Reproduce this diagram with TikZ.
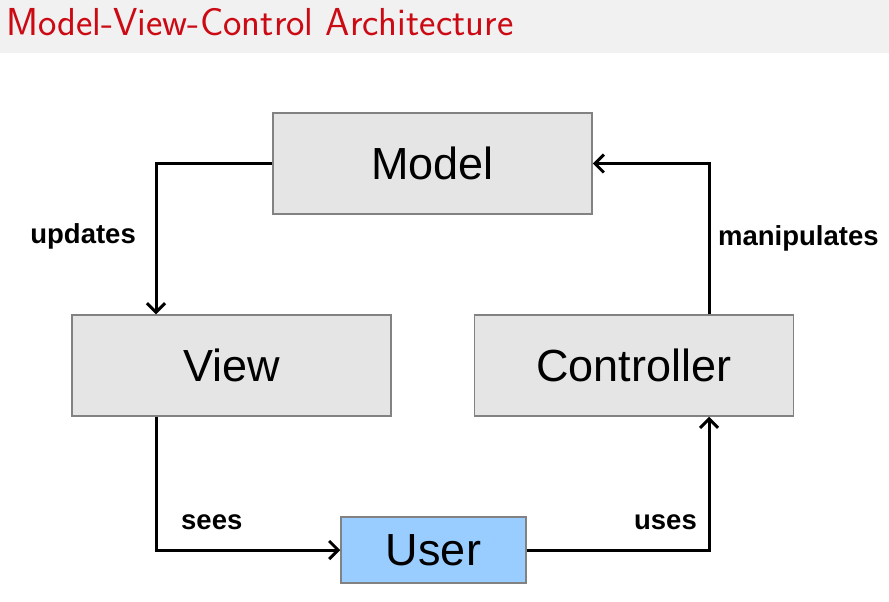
\documentclass[tikz,border=0pt]{standalone}
\usepackage{fontspec}
\newfontfamily\arialfont{Liberation Sans}
\usetikzlibrary{arrows.meta}
\definecolor{titlered}{RGB}{204,10,20}
\definecolor{barbg}{RGB}{241,241,241}
\definecolor{boxgray}{RGB}{229,229,229}
\definecolor{boxline}{RGB}{130,130,130}
\definecolor{userblue}{RGB}{153,204,255}

\begin{document}
\begin{tikzpicture}[x=1pt, y=-1pt,
    block/.style={draw=boxline, line width=1.5pt, fill=boxgray, inner sep=0pt,
        minimum width=319pt, minimum height=101pt,
        font=\arialfont\fontsize{45}{45}\selectfont},
    flow/.style={line width=3pt, -{Straight Barb[length=9pt, width=18pt]}},
    lbl/.style={inner sep=0pt, font=\arialfont\bfseries\fontsize{27.5}{27.5}\selectfont}]
        \useasboundingbox (0, 0) rectangle (889, 602);
        % title bar
        \fill[barbg] (0, 0) rectangle (889, 53);
        \node[anchor=base west, inner sep=0pt, text=titlered,
            font=\sffamily\fontsize{39}{39}\selectfont] (title) at (6, 36)
            {Model-View-Control Architecture};
        % boxes
        \node[block] (model) at (432.5, 163.5) {Model};
        \node[block] (view) at (231.5, 365.5) {View};
        \node[block] (controller) at (634, 365.5) {Controller};
        \node[block, fill=userblue, minimum width=185pt, minimum height=66pt] (user) at (433.5, 550) {User};
        % connectors
        \draw[flow] (model.west) -| ([xshift=-75.5pt]view.north);
        \draw[flow] ([xshift=-75.5pt]view.south) |- (user.west);
        \draw[flow] (user.east) -| ([xshift=75pt]controller.south);
        \draw[flow] ([xshift=75pt]controller.north) |- (model.east);
        % labels
        \node[lbl, anchor=base east] (updates) at (136, 243) {updates};
        \node[lbl, anchor=base west] (manipulates) at (718, 245) {manipulates};
        \node[lbl, anchor=base west] (sees) at (181, 529) {sees};
        \node[lbl, anchor=base east] (uses) at (697, 529) {uses};
\end{tikzpicture}
\end{document}
